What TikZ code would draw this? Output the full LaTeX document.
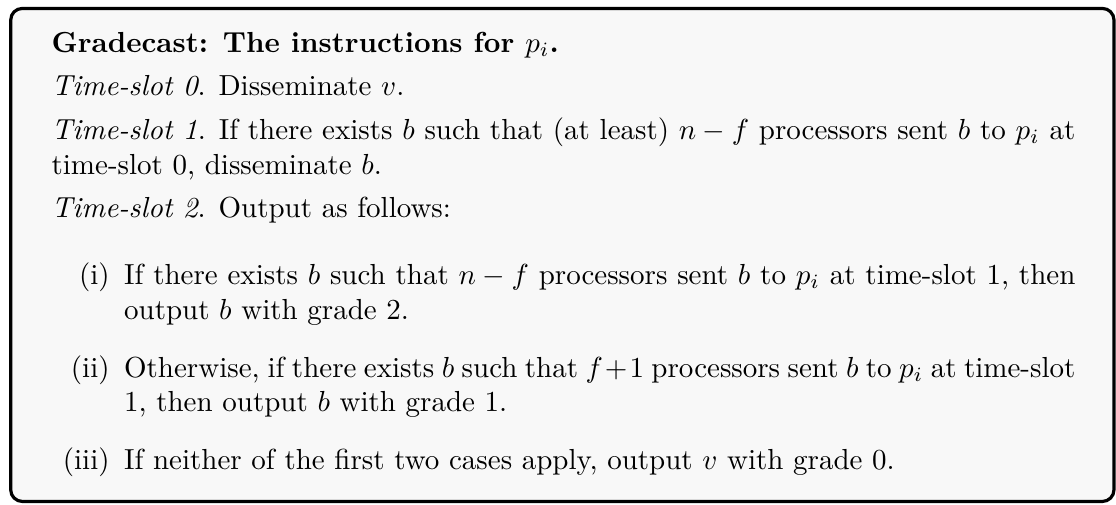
\documentclass[tikz,border=0pt]{standalone}
\usetikzlibrary{positioning}
\definecolor{boxgray}{HTML}{F8F8F8}
\renewcommand{\labelenumi}{(\roman{enumi})}

\begin{document}
\begin{tikzpicture}[frame/.style={draw,line width=1.1pt,rounded corners=4pt,fill=boxgray}]
\useasboundingbox (0,0) rectangle (384.8pt,-174.1pt);
\coordinate (boxnw) at (3.7pt,-2.9pt);
\coordinate (boxse) at (384.1pt,-172.9pt);
\draw [frame] (boxnw) rectangle (boxse);
\node [anchor=base west,inner sep=0pt] (steps) at (17.6pt,-18pt) {%
\begin{minipage}[t]{353pt}
\setlength{\parskip}{3pt}
\textbf{Gradecast: The instructions for $p_i$.}

\emph{Time-slot 0}. Disseminate $v$.

\emph{Time-slot 1}. If there exists $b$ such that (at least) $n-f$ processors sent $b$ to $p_i$ at time-slot 0, disseminate $b$.

\emph{Time-slot 2}. Output as follows:
\begin{enumerate}
\item If there exists $b$ such that $n-f$ processors sent $b$ to $p_i$ at time-slot 1, then output $b$ with grade 2.
\item Otherwise, if there exists $b$ such that $f+1$ processors sent $b$ to $p_i$ at time-slot 1, then output $b$ with grade 1.
\item If neither of the first two cases apply, output $v$ with grade 0.
\end{enumerate}
\end{minipage}};
\end{tikzpicture}
\end{document}
